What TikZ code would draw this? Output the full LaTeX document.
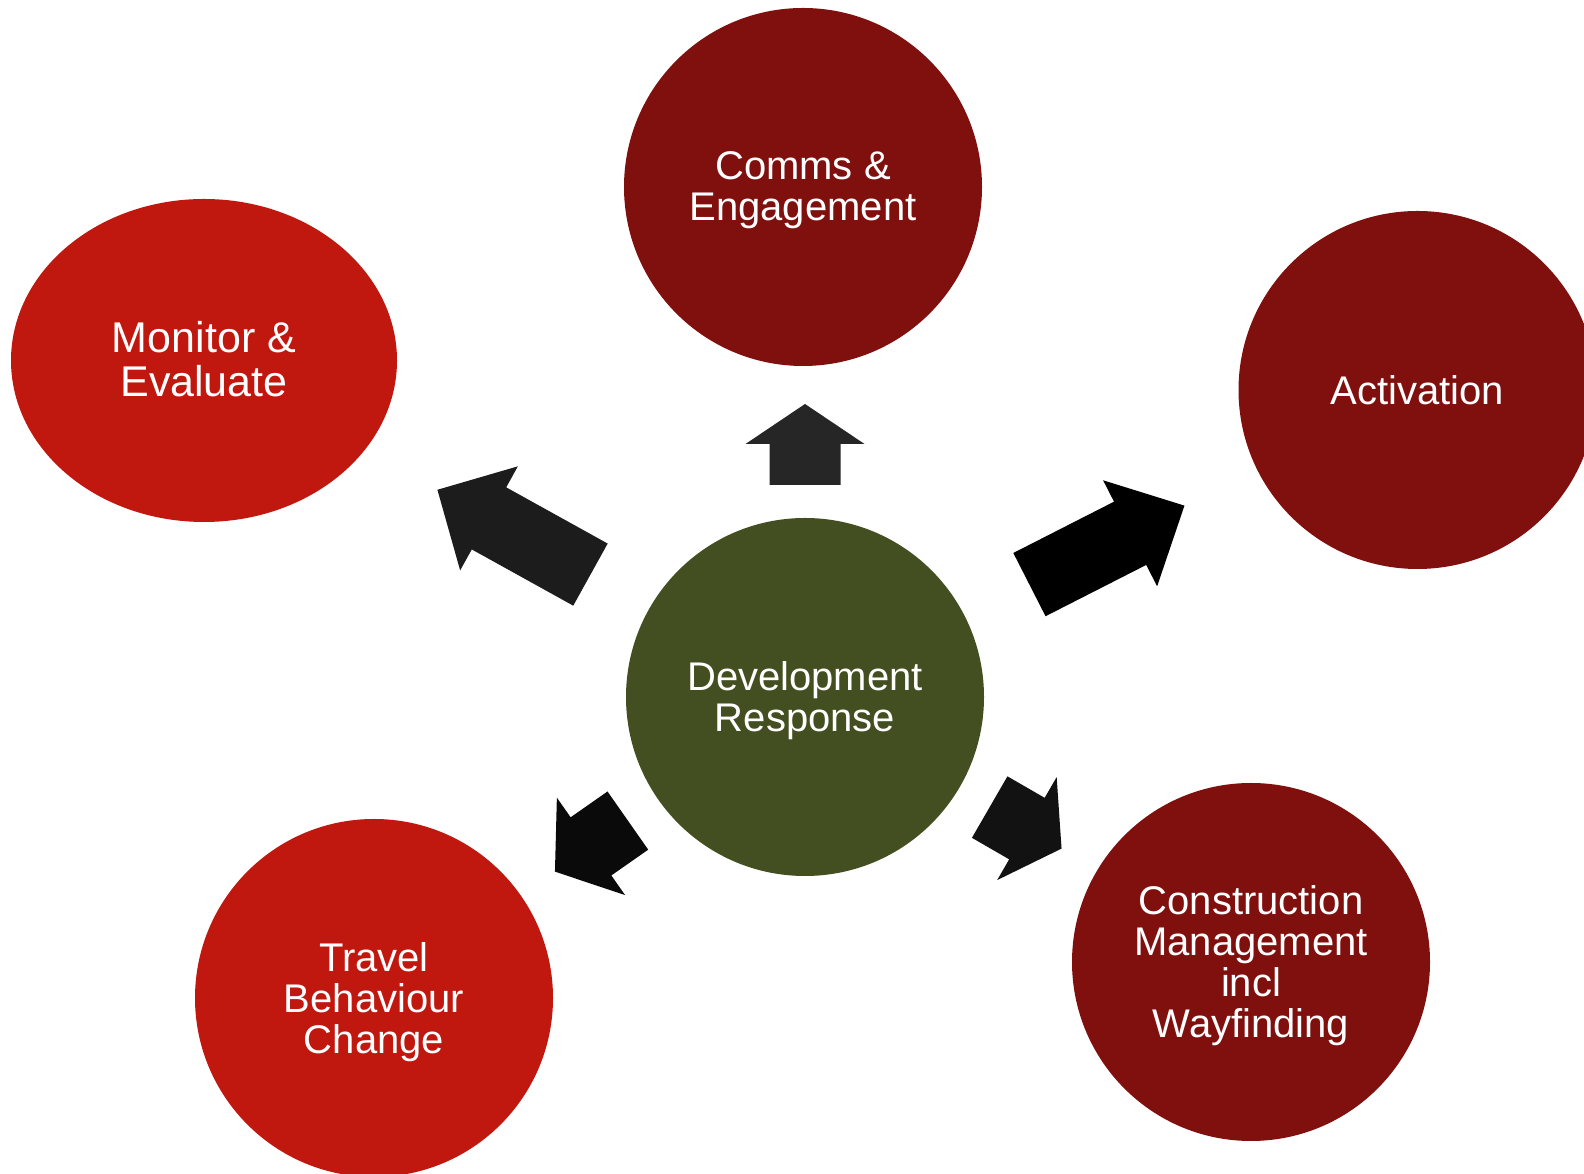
\documentclass[tikz,border=0pt]{standalone}
\usepackage{fontspec}
\setmainfont{Liberation Sans}
\usetikzlibrary{shapes.geometric, calc}

\definecolor{ringdark}{HTML}{7F100E}
\definecolor{ringbright}{HTML}{C0170F}
\definecolor{hubgreen}{HTML}{434F20}

% block arrow: colour, tail point, angle, length, head length
\newcommand{\blockarrow}[5]{%
  \fill[#1, shift={(#2)}, rotate=#3]
    (0,-35.5) -- (#4-#5,-35.5) -- (#4-#5,-59.5) -- (#4,0)
    -- (#4-#5,59.5) -- (#4-#5,35.5) -- (0,35.5) -- cycle;}
% tall first line, pushes the text block down a little
\newcommand{\topstrut}{\rule{0pt}{37pt}}

\begin{document}
\begin{tikzpicture}[x=1pt, y=1pt,
    disc/.style={circle, minimum size=358pt, inner sep=0pt, text=white, align=center,
      font=\fontsize{40}{41}\selectfont}, % round spokes and hub
    oval/.style={ellipse, minimum width=386pt, minimum height=323pt, inner sep=0pt,
      text=white, align=center, font=\fontsize{43}{44}\selectfont} % flat spoke
]
    \clip (0,0) rectangle (1584,1174);

    % Hub
    \node[disc, fill=hubgreen] (dev) at (805,477) {\topstrut Development\\Response};

    % Spokes
    \node[disc, fill=ringdark] (comms) at (803,987) {\rule{0pt}{34pt}Comms \&\\Engagement};
    \node[disc, fill=ringdark] (act) at (1417.5,784) {Activation};
    \node[oval, fill=ringbright] (mon) at (204,813.5) {Monitor \&\\Evaluate\rule[-3pt]{0pt}{3pt}};
    \node[disc, fill=ringbright] (travel) at (374,176) {\topstrut Travel\\Behaviour\\Change};
    \node[disc, fill=ringdark] (constr) at (1251,212) {\topstrut Construction\\Management\\incl\\Wayfinding};

    % Arrows out of the hub
    \blockarrow{black!85}{$(dev)+(90:212)$}{90}{81}{40}
    \blockarrow{black!89}{$(dev)+(150.3:247)$}{151}{175}{59}
    \blockarrow{black}{$(dev)+(26.6:251)$}{27}{174}{61}
    \blockarrow{black!96}{$(dev)+(214.9:216)$}{215}{89}{44}
    \blockarrow{black!93}{$(dev)+(-30.8:215)$}{-30}{83}{40}

\end{tikzpicture}
\end{document}
